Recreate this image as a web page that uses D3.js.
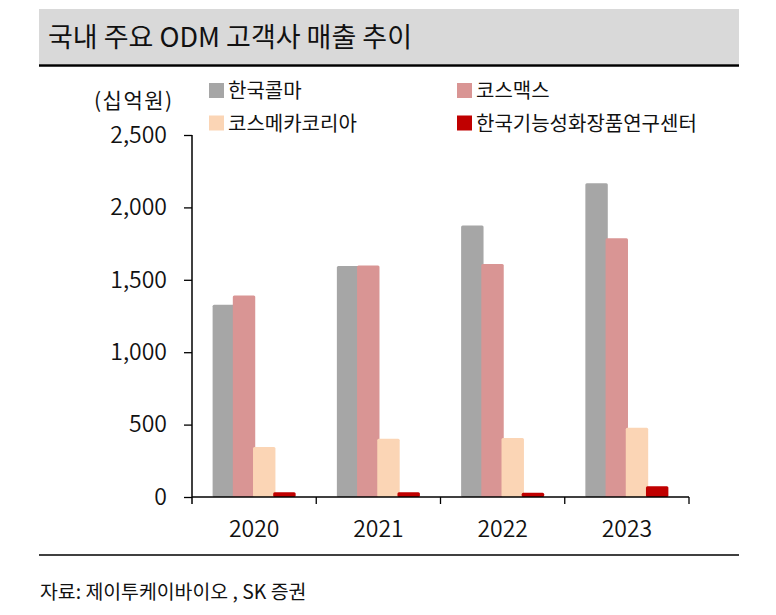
<!DOCTYPE html>
<html>
<head>
<meta charset="utf-8">
<script src="https://cdn.jsdelivr.net/npm/d3@7"></script>
<style>
    body { margin: 0; background: #fff; }
    svg text { font-family: "Noto Sans CJK KR", "Noto Sans", sans-serif; fill: #111; }
</style>
</head>
<body>
<div id="chart"></div>
<script>
// Chart data (십억원)
const years = ["2020", "2021", "2022", "2023"];
const seriesNames = ["한국콜마", "코스맥스", "코스메카코리아", "한국기능성화장품연구센터"];
const seriesColors = ["#a6a6a6", "#d99594", "#fbd5b5", "#c00000"];
const kolmar = [1328, 1595, 1875, 2167];
const cosmax = [1391, 1599, 1609, 1787];
const cosmecca = [345, 403, 407, 479];
const kfcrc = [33, 33, 30, 74];
const yTicks = [0, 500, 1000, 1500, 2000, 2500];

const values = [kolmar, cosmax, cosmecca, kfcrc];

const W = 776, H = 615;
const svg = d3.select("#chart").append("svg")
    .attr("width", W)
    .attr("height", H);

// Title band
svg.append("rect")
    .attr("x", 39).attr("y", 9)
    .attr("width", 700).attr("height", 55)
    .attr("fill", "#d9d9d9");
svg.append("line")
    .attr("x1", 39).attr("x2", 739)
    .attr("y1", 65.5).attr("y2", 65.5)
    .attr("stroke", "#000").attr("stroke-width", 2.5);
svg.append("text")
    .attr("x", 48).attr("y", 47)
    .style("font-size", "27px")
    .style("font-weight", "400")
    .text("국내 주요 ODM 고객사 매출 추이");

// Scales
const x0 = d3.scaleBand().domain(years).range([192, 689]).padding(0);
const step = 20.2;
const x1 = d3.scaleBand().domain(seriesNames).range([0, step * 4]);
const barW = x1.bandwidth() * 1.11;
const groupW = 3 * step + barW;

const y = d3.scaleLinear().domain([0, 2500]).range([497, 135]);

// Bars
values.forEach((vals, i) => {
    svg.append("g")
        .selectAll("rect")
        .data(years.map((yr, j) => ({ yr, v: vals[j] })))
        .enter().append("rect")
        .attr("x", d => x0(d.yr) + x0.bandwidth() / 2 - groupW / 2 + x1(seriesNames[i]))
        .attr("y", d => y(d.v))
        .attr("width", barW)
        .attr("height", d => y(0) - y(d.v))
        .attr("rx", 1.5)
        .attr("fill", seriesColors[i]);
});

// Y axis
const yAxis = svg.append("g")
    .attr("transform", "translate(192,0)")
    .call(d3.axisLeft(y).tickValues(yTicks).tickSize(8).tickSizeOuter(0).tickPadding(17)
        .tickFormat(d3.format(",")));
yAxis.select(".domain").attr("stroke", "#000").attr("stroke-width", 1.5)
    .attr("d", `M0,${y(2500)}V${y(0) + 7}`);
yAxis.selectAll(".tick line").attr("stroke", "#000").attr("stroke-width", 1.3);
yAxis.selectAll("text").style("font-size", "23px").attr("fill", "#111")
    .style("font-weight", "350");

// X axis
const xAxis = svg.append("g")
    .attr("transform", `translate(0,${y(0)})`)
    .call(d3.axisBottom(x0).tickSize(0).tickPadding(24));
xAxis.select(".domain").attr("stroke", "#000").attr("stroke-width", 1.5)
    .attr("d", "M192,0H689");
xAxis.selectAll("text").style("font-size", "23px").attr("fill", "#111")
    .style("font-weight", "350");

// Category separators (ticks at band edges)
const edges = years.map(d => x0(d)).concat([x0.range()[1]]);
svg.append("g")
    .selectAll("line")
    .data(edges.slice(1))
    .enter().append("line")
    .attr("x1", d => d).attr("x2", d => d)
    .attr("y1", y(0)).attr("y2", y(0) + 7)
    .attr("stroke", "#000").attr("stroke-width", 1.3);

// Unit label
svg.append("text")
    .attr("x", 94).attr("y", 108)
    .style("font-size", "21px")
    .style("letter-spacing", "1.5px")
    .text("(십억원)");

// Legend
const legendPos = [[209, 90.5], [457, 90.5], [209, 123], [457, 123]];
seriesNames.forEach((name, i) => {
    const [lx, ly] = legendPos[i];
    svg.append("rect")
        .attr("x", lx).attr("y", ly - 7.5)
        .attr("width", 15).attr("height", 15)
        .attr("fill", seriesColors[i]);
    svg.append("text")
        .attr("x", lx + 19).attr("y", ly + 7.5)
        .style("font-size", "20px")
        .text(name);
});

// Bottom rule and source
svg.append("line")
    .attr("x1", 39).attr("x2", 739)
    .attr("y1", 555).attr("y2", 555)
    .attr("stroke", "#000").attr("stroke-width", 1.3);
svg.append("text")
    .attr("x", 40).attr("y", 599)
    .style("font-size", "19.4px")
    .text("자료: 제이투케이바이오 , SK 증권");
</script>
</body>
</html>
